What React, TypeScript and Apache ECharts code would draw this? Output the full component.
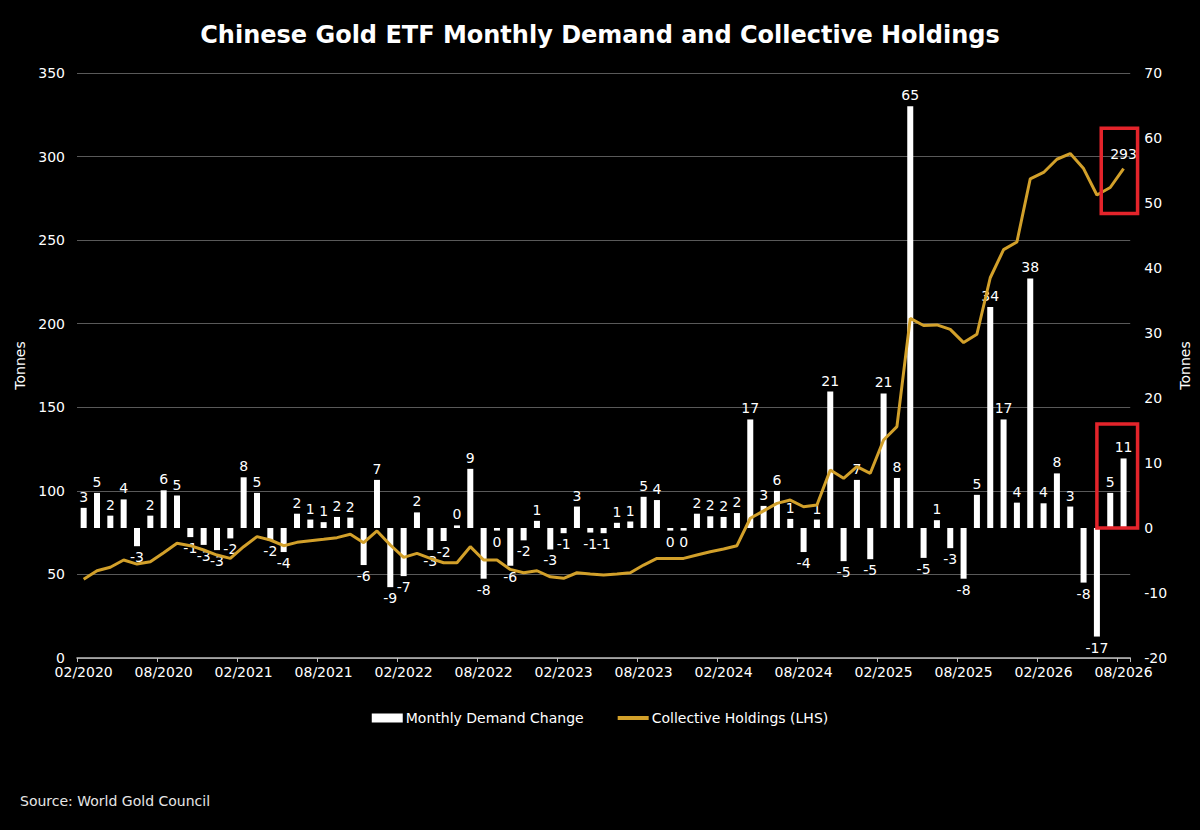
import React, { useEffect, useRef } from "react";
import * as echarts from "echarts";

// Categories: monthly from 02/2020 to 08/2026
const months: string[] = [];
for (let i = 0; i < 79; i++) {
  const m = ((1 + i) % 12) + 1;
  const y = 2020 + Math.floor((1 + i) / 12);
  months.push((m < 10 ? "0" + m : "" + m) + "/" + y);
}

// Monthly demand change (tonnes, right axis)
const demand: number[] = [
  3.1, 5.4, 1.9, 4.4, -2.8, 1.9, 5.8, 5.0, -1.4, -2.6,
  -3.4, -1.6, 7.8, 5.4, -1.9, -3.7, 2.2, 1.3, 0.9, 1.7,
  1.6, -5.7, 7.4, -9.1, -7.4, 2.4, -3.4, -2.0, 0.4, 9.1,
  -7.8, -0.4, -5.8, -1.9, 1.1, -3.3, -0.8, 3.3, -0.7, -0.8,
  0.8, 1.0, 4.8, 4.3, -0.4, -0.4, 2.2, 1.8, 1.7, 2.3,
  16.7, 3.4, 5.7, 1.4, -3.7, 1.3, 21.0, -5.1, 7.4, -4.8,
  20.7, 7.7, 64.9, -4.6, 1.2, -3.1, -7.8, 5.1, 34.0, 16.7,
  3.9, 38.4, 3.8, 8.4, 3.3, -8.4, -16.7, 5.4, 10.7,
];

// Collective holdings (tonnes, left axis)
const holdings: number[] = [
  47.1, 52.2, 54.3, 58.6, 56.2, 57.6, 63.0, 68.6, 67.2, 64.6,
  61.6, 59.6, 66.6, 72.6, 70.6, 67.2, 69.2, 70.2, 71.0, 72.0,
  74.0, 69.0, 76.0, 67.6, 60.2, 62.6, 59.6, 57.0, 57.0, 66.6,
  58.6, 58.6, 53.0, 51.0, 52.2, 48.6, 47.7, 51.0, 50.3, 49.7,
  50.3, 51.0, 55.6, 59.6, 59.6, 59.6, 61.6, 63.6, 65.2, 67.2,
  83.6, 88.0, 92.5, 94.5, 90.5, 91.5, 112.5, 107.5, 114.5, 110.5,
  130.4, 138.4, 203.2, 198.9, 199.3, 196.6, 188.7, 193.7, 227.5, 244.3,
  248.9, 286.7, 290.5, 298.4, 301.8, 292.8, 277.0, 281.5, 292.8,
];

const leftTicks = { min: 0, max: 350, interval: 50 };
const rightTicks = { min: -20, max: 70, interval: 10 };

// Highlight boxes (data-space extents)
const boxTop = { fromIdx: 77, toIdx: 78, yHigh: 317, yLow: 266 };
const boxBottom = { fromIdx: 76, toIdx: 78, yHigh: 16, yLow: 0 };

const FONT = "DejaVu Sans";
const GOLD = "#D2A02A";
const RED = "#E3242B";

export default function App() {
  const ref = useRef<HTMLDivElement>(null);
  useEffect(() => {
    if (!ref.current) return;
    const chart = echarts.init(ref.current, undefined, { renderer: "svg" });
    const lastIdx = holdings.length - 1;
    const option: any = {
      animation: false,
      backgroundColor: "#000000",
      title: {
        text: "Chinese Gold ETF Monthly Demand and Collective Holdings",
        left: "center",
        top: 18,
        textStyle: { color: "#ffffff", fontSize: 24, fontWeight: "bold", fontFamily: FONT },
      },
      legend: {
        bottom: 100,
        left: "center",
        itemWidth: 31,
        itemHeight: 9,
        itemGap: 32,
        textStyle: { color: "#ffffff", fontSize: 14, fontFamily: FONT, padding: [0, 0, 0, -2] },
        data: [
          { name: "Monthly Demand Change", icon: "rect" },
          {
            name: "Collective Holdings (LHS)",
            itemStyle: { color: "rgba(0,0,0,0)", borderWidth: 0 },
            lineStyle: { color: GOLD, width: 4 },
          },
        ],
      },
      grid: { left: 77, right: 67, top: 73, bottom: 172 },
      xAxis: {
        type: "category",
        data: months,
        boundaryGap: true,
        axisLine: { show: true, onZero: false, lineStyle: { color: "#bfbfbf", width: 1.5 } },
        axisTick: { show: true, interval: 5, length: 4, lineStyle: { color: "#bfbfbf" } },
        axisLabel: { interval: 5, color: "#ffffff", fontSize: 14, fontFamily: FONT, margin: 7 },
        splitLine: { show: false },
      },
      yAxis: [
        {
          type: "value",
          ...leftTicks,
          name: "Tonnes",
          nameLocation: "middle",
          nameGap: 34,
          nameTextStyle: { color: "#ffffff", fontSize: 14, fontFamily: FONT },
          axisLine: { show: false },
          axisTick: { show: false },
          axisLabel: { color: "#ffffff", fontSize: 14, fontFamily: FONT, margin: 12 },
          splitLine: { show: true, lineStyle: { color: "#595959", width: 1 } },
        },
        {
          type: "value",
          ...rightTicks,
          name: "Tonnes",
          nameLocation: "middle",
          nameGap: 45,
          nameTextStyle: { color: "#ffffff", fontSize: 14, fontFamily: FONT },
          axisLine: { show: false },
          axisTick: { show: false },
          axisLabel: { color: "#ffffff", fontSize: 14, fontFamily: FONT, margin: 14 },
          splitLine: { show: false },
        },
      ],
      series: [
        {
          name: "Monthly Demand Change",
          type: "bar",
          yAxisIndex: 1,
          barWidth: 6,
          itemStyle: { color: "#ffffff" },
          data: demand.map((v) => ({
            value: v,
            label: { position: v >= 0 ? "top" : "bottom" },
          })),
          label: {
            show: true,
            color: "#ffffff",
            fontSize: 14,
            fontFamily: FONT,
            distance: 4,
            formatter: (p: any) => String(Math.round(p.value) === 0 ? 0 : Math.round(p.value)),
          },
          z: 2,
        },
        {
          name: "Collective Holdings (LHS)",
          type: "line",
          yAxisIndex: 0,
          showSymbol: true,
          symbol: "circle",
          symbolSize: 0,
          lineStyle: { color: GOLD, width: 3 },
          itemStyle: { color: GOLD },
          label: { show: false },
          data: holdings.map((v, i) =>
            i === lastIdx
              ? {
                  value: v,
                  label: {
                    show: true,
                    position: "top",
                    distance: 8,
                    color: "#ffffff",
                    fontSize: 14,
                    fontFamily: FONT,
                    formatter: (p: any) => String(Math.round(p.value)),
                  },
                }
              : v
          ),
          z: 3,
        },
      ],
    };
    chart.setOption(option);

    const px = (idx: number) => chart.convertToPixel({ xAxisIndex: 0 }, months[idx]) as number;
    const pyL = (v: number) => chart.convertToPixel({ yAxisIndex: 0 }, v) as number;
    const pyR = (v: number) => chart.convertToPixel({ yAxisIndex: 1 }, v) as number;

    const t1x = px(boxTop.fromIdx) - 9;
    const t2x = px(boxTop.toIdx) + 14;
    const t1y = pyL(boxTop.yHigh);
    const t2y = pyL(boxTop.yLow);
    const b1x = px(boxBottom.fromIdx);
    const b2x = px(boxBottom.toIdx) + 14;
    const b1y = pyR(boxBottom.yHigh);
    const b2y = pyR(boxBottom.yLow);

    chart.setOption({
      graphic: [
        {
          type: "rect",
          shape: { x: t1x, y: t1y, width: t2x - t1x, height: t2y - t1y },
          style: { fill: "none", stroke: RED, lineWidth: 3.5 },
          z: 10,
        },
        {
          type: "rect",
          shape: { x: b1x, y: b1y, width: b2x - b1x, height: b2y - b1y },
          style: { fill: "none", stroke: RED, lineWidth: 3.5 },
          z: 10,
        },
        {
          type: "text",
          left: 20,
          top: 794,
          style: {
            text: "Source: World Gold Council",
            fill: "#e6e6e6",
            fontSize: 14,
            fontFamily: FONT,
          },
        },
      ],
    });

    return () => chart.dispose();
  }, []);
  return (
    <div
      ref={ref}
      style={{ position: "fixed", left: 0, top: 0, width: 1200, height: 830 }}
    />
  );
}
